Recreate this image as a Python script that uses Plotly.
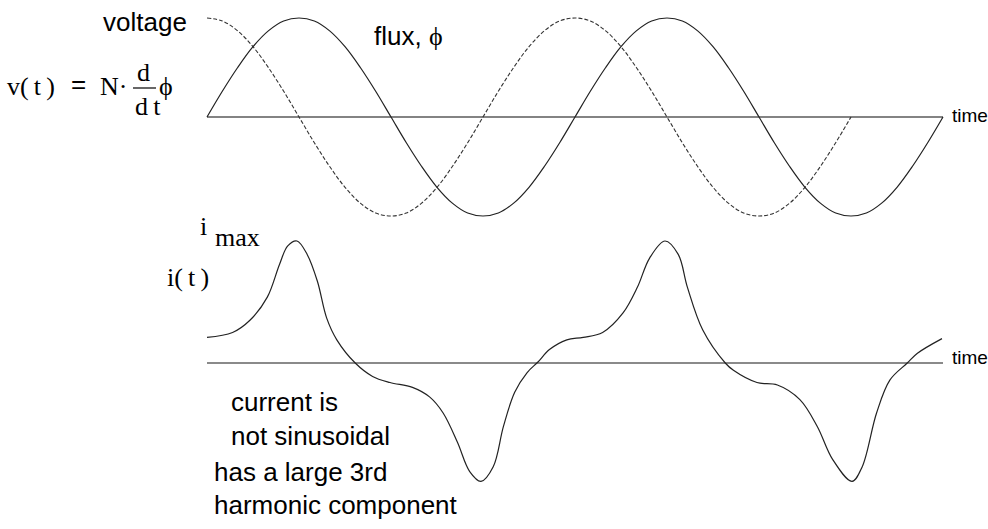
import plotly.graph_objects as go

W, H = 988, 529

# ---- data (time in electrical degrees) ----
t_flux = [0, 15, 30, 45, 60, 75, 90, 105, 120, 135, 150, 165, 180, 195, 210, 225, 240, 255, 270, 285, 300, 315, 330, 345,
          360, 375, 390, 405, 420, 435, 450, 465, 480, 495, 510, 525, 540, 555, 570, 585, 600, 615, 630, 645, 660, 675, 690, 705, 720]
flux = [0, 0.26, 0.5, 0.71, 0.87, 0.97, 1.0, 0.97, 0.87, 0.71, 0.5, 0.26, 0, -0.26, -0.5, -0.71, -0.87, -0.97, -1.0, -0.97, -0.87, -0.71, -0.5, -0.26,
        0, 0.26, 0.5, 0.71, 0.87, 0.97, 1.0, 0.97, 0.87, 0.71, 0.5, 0.26, 0, -0.26, -0.5, -0.71, -0.87, -0.97, -1.0, -0.97, -0.87, -0.71, -0.5, -0.26, 0]

t_volt = [0, 15, 30, 45, 60, 75, 90, 105, 120, 135, 150, 165, 180, 195, 210, 225, 240, 255, 270, 285, 300, 315, 330, 345,
          360, 375, 390, 405, 420, 435, 450, 465, 480, 495, 510, 525, 540, 555, 570, 585, 600, 615, 630]
voltage = [1.0, 0.97, 0.87, 0.71, 0.5, 0.26, 0, -0.26, -0.5, -0.71, -0.87, -0.97, -1.0, -0.97, -0.87, -0.71, -0.5, -0.26, 0, 0.26, 0.5, 0.71, 0.87, 0.97,
           1.0, 0.97, 0.87, 0.71, 0.5, 0.26, 0, -0.26, -0.5, -0.71, -0.87, -0.97, -1.0, -0.97, -0.87, -0.71, -0.5, -0.26, 0]

t_cur = [0, 25, 42, 59, 71, 79, 88, 98, 108, 117, 127, 145, 162, 179, 201, 218, 231, 245, 257, 268, 280, 290, 301, 313, 324, 335, 352,
         368, 387, 407, 421, 433, 448, 461, 470, 485, 507, 515, 538, 558, 580, 597, 612, 631, 641, 655, 668, 685, 695, 719]
current = [0.21, 0.25, 0.35, 0.54, 0.81, 0.96, 1.0, 0.89, 0.67, 0.37, 0.19, 0.0, -0.11, -0.16, -0.2, -0.28, -0.41, -0.65, -0.89, -0.97,
           -0.85, -0.52, -0.24, -0.08, 0.01, 0.11, 0.19,
           0.21, 0.25, 0.41, 0.62, 0.86, 1.0, 0.89, 0.62, 0.27, 0.0, -0.06, -0.16, -0.18, -0.3, -0.52, -0.79, -0.97, -0.85, -0.41, -0.14, 0.0, 0.08, 0.2]

t_axis = [0, 720]
zero_line = [0, 0]

# ---- figure ----
fig = go.Figure()
fig.add_trace(go.Scatter(x=t_axis, y=zero_line, mode="lines", line=dict(color="#5a5a5a", width=1.5), yaxis="y"))
fig.add_trace(go.Scatter(x=t_volt, y=voltage, mode="lines", line=dict(color="#333333", width=1.1, dash="4px,2px", shape="spline"), yaxis="y"))
fig.add_trace(go.Scatter(x=t_flux, y=flux, mode="lines", line=dict(color="#222222", width=1.2, shape="spline"), yaxis="y"))
fig.add_trace(go.Scatter(x=t_axis, y=zero_line, mode="lines", line=dict(color="#8a8a8a", width=2), yaxis="y2"))
fig.add_trace(go.Scatter(x=t_cur, y=current, mode="lines", line=dict(color="#222222", width=1.2, shape="spline", smoothing=1.0), yaxis="y2"))

deg_per_px = 360 / 368.0
x0_px = 207
xr = [(0 - x0_px) * deg_per_px, (W - x0_px) * deg_per_px]
top_zero, top_amp = 117, 99
bot_zero, bot_amp = 363, 122


def px(x):
    return x / W


def py(y):
    return 1 - y / H


sans = "Liberation Sans, Arial, sans-serif"
serif = "Liberation Serif, Times New Roman, serif"

ann = []


def label(text, x, y, size, fam, anchor="left"):
    ann.append(dict(text=text, x=px(x), y=py(y), xref="paper", yref="paper", xanchor=anchor, yanchor="middle",
                    showarrow=False, font=dict(family=fam, size=size, color="#000000")))


label("voltage", 101, 22, 26, sans)
label("flux, <span style='font-family:Liberation Serif'>\u03d5</span>", 372, 36, 26, sans)
label("v(\u2009t\u2009)", 5, 86, 26, serif)
label("=", 69, 84, 26, sans)
label("N\u00b7", 98, 86, 26, serif)
label("d", 135, 73, 26, serif)
label("d\u2009t", 133, 106, 26, serif)
label("\u03d5", 157, 86, 26, serif)
label("i", 198, 226, 26, serif)
label("max", 213, 237, 26, serif)
label("i(\u2009t\u2009)", 165, 277, 26, serif)
label("time", 950, 116, 19, sans)
label("time", 950, 357, 19, sans)
label("current is", 229, 402, 26, sans)
label("not sinusoidal", 229, 436, 26, sans)
label("has a large 3rd", 212, 472, 26, sans)
label("harmonic component", 212, 505, 26, sans)

fig.update_layout(
    width=W, height=H, margin=dict(l=0, r=0, t=0, b=0, pad=0),
    paper_bgcolor="white", plot_bgcolor="white", showlegend=False,
    xaxis=dict(range=xr, visible=False, fixedrange=True),
    yaxis=dict(range=[(top_zero - H) / top_amp, top_zero / top_amp], visible=False),
    yaxis2=dict(range=[(bot_zero - H) / bot_amp, bot_zero / bot_amp], visible=False, overlaying="y"),
    annotations=ann,
    shapes=[dict(type="line", xref="paper", yref="paper", x0=px(133), x1=px(156), y0=py(88), y1=py(88),
                 line=dict(color="#000000", width=1.2))],
)

fig.write_html("out.html", config={"displayModeBar": False},
               post_script="document.body.style.margin='0';")
